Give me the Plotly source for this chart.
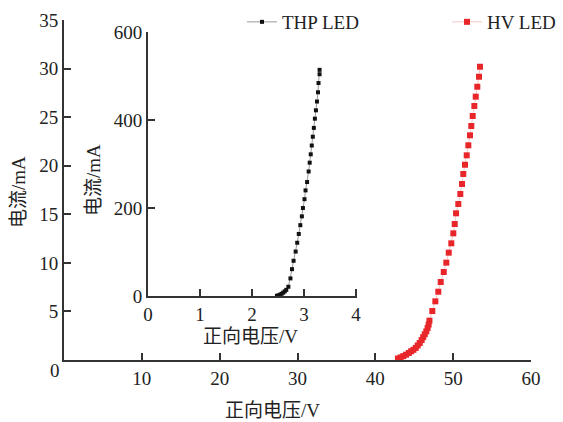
import plotly.graph_objects as go

# ---- data ----
hv_voltage = [42.9, 43.25, 43.6, 43.95, 44.3, 44.6, 44.9, 45.2, 45.45, 45.7, 45.95, 46.15,
              46.35, 46.55, 46.72, 46.85, 46.95, 47.32, 47.71, 48.09, 48.40, 48.79, 49.12,
              49.43, 49.76, 50.02, 50.20, 50.37, 50.66, 50.92, 51.14, 51.30, 51.52, 51.74,
              51.95, 52.16, 52.33, 52.51, 52.72, 52.90, 53.10, 53.32, 53.45]
hv_current = [0.15, 0.27, 0.40, 0.55, 0.72, 0.90, 1.05, 1.25, 1.50, 1.75, 2.05, 2.35,
              2.65, 2.95, 3.30, 3.65, 4.05, 5.04, 6.04, 7.03, 8.03, 9.06, 10.02,
              11.05, 12.01, 13.04, 14.0, 15.1, 16.06, 17.09, 18.12, 19.15, 20.10, 21.07,
              22.10, 23.13, 24.09, 25.12, 26.15, 27.11, 28.13, 29.16, 30.19]

thp_voltage = [2.48, 2.51, 2.54, 2.57, 2.60, 2.63, 2.66, 2.70, 2.74, 2.77, 2.80, 2.84,
               2.87, 2.90, 2.93, 2.96, 2.98, 3.01, 3.03, 3.06, 3.09, 3.11, 3.13, 3.15,
               3.17, 3.19, 3.21, 3.23, 3.25, 3.27, 3.28, 3.30, 3.30]
thp_current = [0.5, 1.5, 3, 5, 7.5, 10.5, 14, 21, 40, 61, 80, 101,
               121, 141, 161, 181, 200, 220, 240, 259, 283, 303, 322, 342,
               362, 382, 403, 422, 442, 463, 484, 504, 514]

main_x_ticks = [10, 20, 30, 40, 50, 60]
main_y_ticks = [0, 5, 10, 15, 20, 25, 30, 35]
inset_x_ticks = [0, 1, 2, 3, 4]
inset_y_ticks = [0, 200, 400, 600]

x_title = "正向电压/V"
y_title = "电流/mA"

FONT = "Liberation Serif, Noto Sans CJK SC, serif"
AX = "#333333"
TXT = "#222222"

W, H = 563, 422
L, R, T, B = 64, 32, 20, 62
PW, PH = W - L - R, H - T - B


def px_x(px):
    return (px - L) / PW


def px_y(py):
    return (H - B - py) / PH


fig = go.Figure()

fig.add_trace(go.Scatter(
    x=thp_voltage, y=thp_current, mode="lines+markers", name="THP LED",
    xaxis="x2", yaxis="y2", legend="legend",
    line=dict(color="#9a9a9a", width=1),
    marker=dict(symbol="square", size=4, color="#111111"),
    cliponaxis=False,
))
fig.add_trace(go.Scatter(
    x=hv_voltage, y=hv_current, mode="lines+markers", name="HV LED",
    legend="legend2",
    line=dict(color="#f5c6c6", width=1),
    marker=dict(symbol="square", size=6, color="#e8262a"),
    cliponaxis=False,
))

axis_common = dict(
    showline=True, linewidth=2, linecolor=AX, ticks="inside", ticklen=7,
    tickwidth=2, tickcolor=AX, showgrid=False, zeroline=False,
    tickfont=dict(family=FONT, size=19, color=TXT),
)

title_font = dict(family=FONT, size=19, color=TXT)

fig.update_layout(
    width=W, height=H,
    margin=dict(l=L, r=R, t=T, b=B, autoexpand=False),
    paper_bgcolor="white", plot_bgcolor="white",
    font=dict(family=FONT, size=19, color=TXT),
    xaxis=dict(domain=[0, 1], range=[0, 60], tickvals=main_x_ticks, anchor="y", **axis_common),
    yaxis=dict(domain=[0, 1], range=[0, 35], tickvals=main_y_ticks,
               ticktext=["" if v == 0 else str(v) for v in main_y_ticks], anchor="x", **axis_common),
    xaxis2=dict(domain=[px_x(148), px_x(357)], range=[0, 4.02], tickvals=inset_x_ticks,
                anchor="y2", **axis_common),
    yaxis2=dict(domain=[px_y(296), px_y(32)], range=[0, 600], tickvals=inset_y_ticks,
                anchor="x2", **axis_common),
    showlegend=True,
    legend=dict(x=px_x(242), y=px_y(3), xanchor="left", yanchor="top",
                bgcolor="rgba(0,0,0,0)", borderwidth=0, font=title_font),
    legend2=dict(x=px_x(447), y=px_y(3), xanchor="left", yanchor="top",
                 bgcolor="rgba(0,0,0,0)", borderwidth=0, font=title_font),
    annotations=[
        dict(text="0", x=0, y=0, xref="x", yref="y", xshift=-9, yshift=-10,
             xanchor="center", yanchor="middle", showarrow=False, font=title_font),
        dict(text=x_title, x=px_x(272), y=px_y(410), xref="paper", yref="paper",
             xanchor="center", yanchor="middle", showarrow=False, font=title_font),
        dict(text=y_title, x=px_x(18), y=px_y(192), xref="paper", yref="paper",
             xanchor="center", yanchor="middle", textangle=-90, showarrow=False, font=title_font),
        dict(text=x_title, x=px_x(250), y=px_y(336), xref="paper", yref="paper",
             xanchor="center", yanchor="middle", showarrow=False, font=title_font),
        dict(text=y_title, x=px_x(93), y=px_y(180), xref="paper", yref="paper",
             xanchor="center", yanchor="middle", textangle=-90, showarrow=False, font=title_font),
    ],
)

fig.write_html("out.html", config={"displayModeBar": False},
               post_script="document.body.style.margin='0';")
